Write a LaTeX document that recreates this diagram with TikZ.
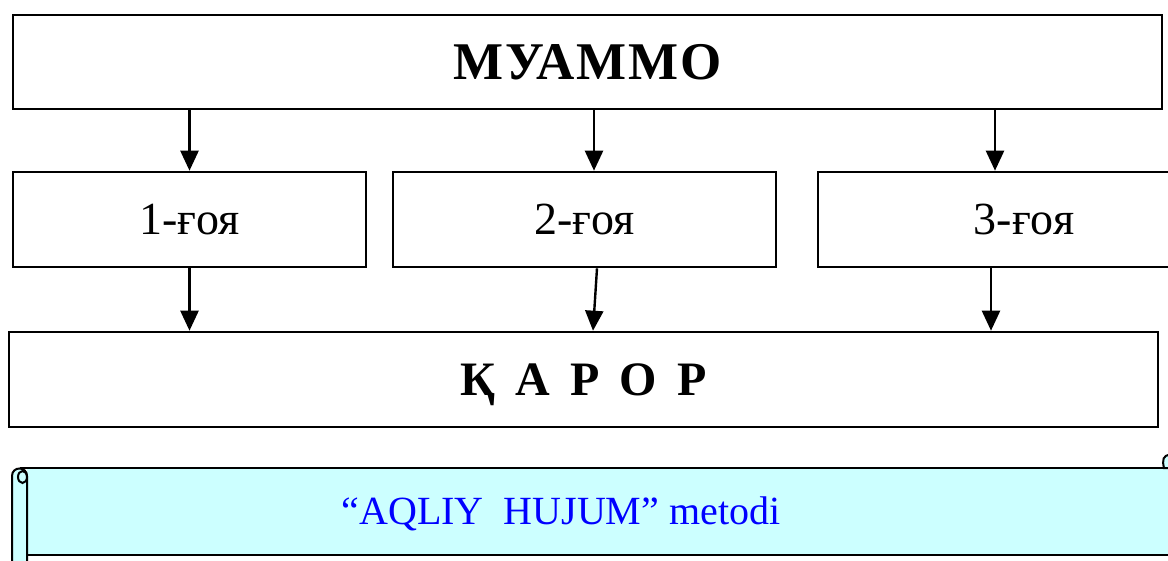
\documentclass[tikz,border=0pt]{standalone}
\usepackage{fontspec}
\setmainfont{Liberation Serif}
\usepackage{tikz}
\usetikzlibrary{arrows.meta}
\usetikzlibrary{positioning}
\definecolor{scrollcyan}{HTML}{CCFFFF}
\definecolor{titleblue}{HTML}{0000FF}

\begin{document}
\begin{tikzpicture}[x=1pt,y=-1pt,
  box/.style={draw, line width=2.6pt, inner sep=0pt, minimum height=95pt, text depth=0pt},
  ideafont/.style={font=\fontsize{46}{52}\selectfont},
  arr/.style={-{Triangle[length=20pt,width=18pt]}, line width=2.4pt},
  rollline/.style={line width=2pt}]
\useasboundingbox (0,0) rectangle (1168,561);
% problem, ideas, decision
\node[box, minimum width=1149pt, minimum height=94pt, font=\fontsize{53}{60}\selectfont\bfseries\addfontfeatures{LetterSpace=4}] (muammo) at (587.5,62) {МУАММО};
\node[box, ideafont, minimum width=353pt] (goya1) at (189.5,219.5) {1-ғоя};
\node[box, ideafont, minimum width=383pt] (goya2) at (584.5,219.5) {2-ғоя};
\node[box, ideafont, minimum width=412pt] (goya3) at (1024,219.5) {3-ғоя};
\node[box, minimum width=1149pt, font=\fontsize{48}{56}\selectfont\bfseries\addfontfeatures{LetterSpace=42}] (qaror) at (583.5,379.5) {ҚАРОР};
\draw[arr] (goya1.north |- muammo.south) -- (goya1.north);
\draw[arr] ([xshift=9.5pt]goya2.north |- muammo.south) -- ([xshift=9.5pt]goya2.north);
\draw[arr] ([xshift=-29pt]goya3.north |- muammo.south) -- ([xshift=-29pt]goya3.north);
\draw[arr] (goya1.south) -- (goya1.south |- qaror.north);
\draw[arr] ([xshift=12.5pt]goya2.south) -- ([xshift=8.5pt]goya2.south |- qaror.north);
\draw[arr] ([xshift=-33pt]goya3.south) -- ([xshift=-33pt]goya3.south |- qaror.north);
% scroll banner
\fill[scrollcyan] (27,468) rectangle (1175,555);
\fill[scrollcyan] (12,565) -- (12,476) .. controls (12,466) and (27,466) .. (27,476) -- (27,565) -- cycle;
\filldraw[fill=scrollcyan, rollline] (1175,468) -- (1164,468) .. controls (1162,460) and (1163,455) .. (1170,455);
\draw[rollline] (20,468) -- (1175,468);
\draw[rollline] (27,555) -- (1175,555);
\draw[rollline] (12,565) -- (12,476) .. controls (12,466) and (27,466) .. (27,476) -- (27,565);
\draw[rollline] (22.5,477) ellipse [x radius=4.5, y radius=6];
\node[anchor=base, text=titleblue, inner sep=0pt, font=\fontsize{40}{48}\selectfont] (title) at (561,524) {“AQLIY\hspace{0.5em}HUJUM” metodi};
\end{tikzpicture}
\end{document}
